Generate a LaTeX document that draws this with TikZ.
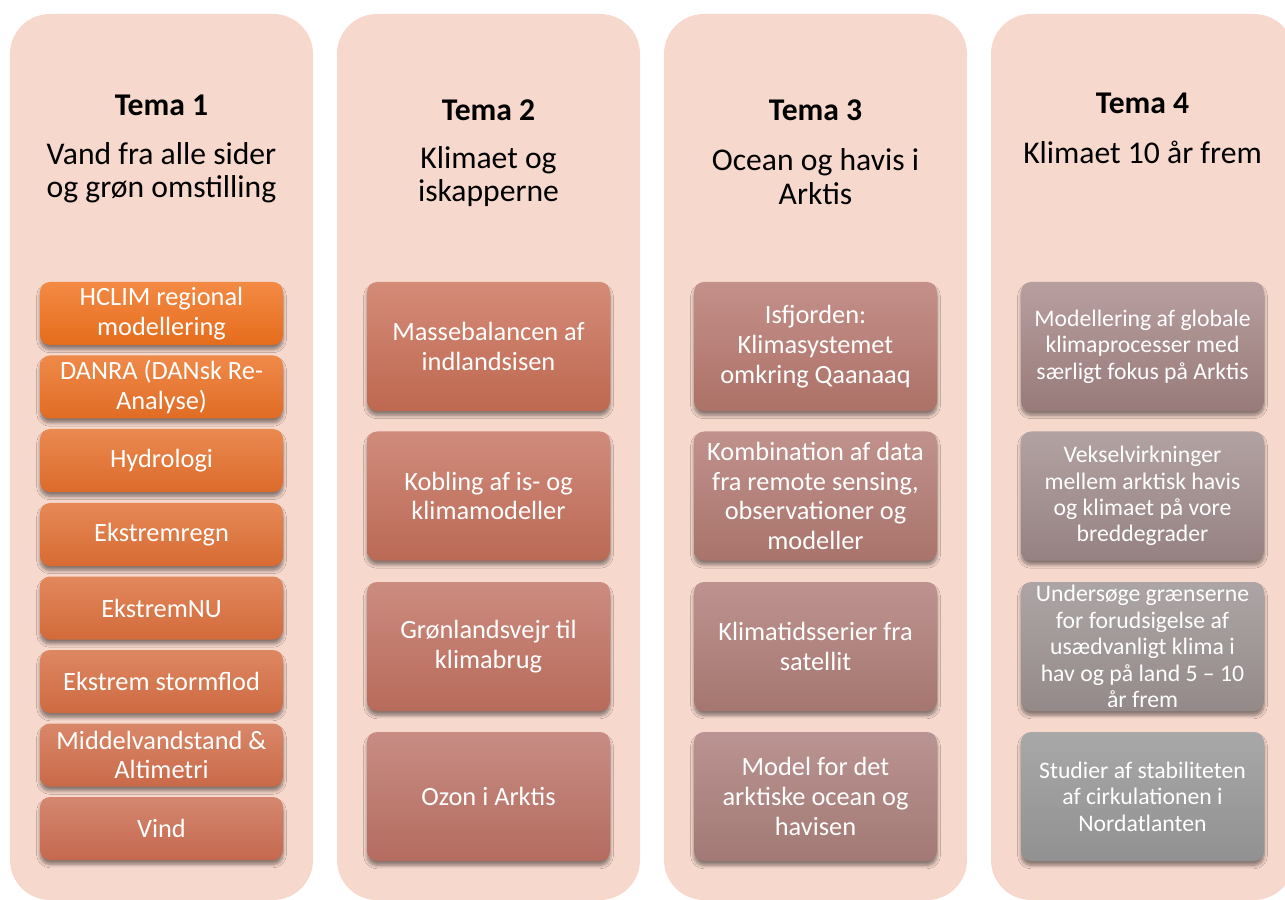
\documentclass[tikz,border=0pt]{standalone}
\usepackage{fontspec}
\setmainfont{Carlito}
\usepackage{tikz}
\usetikzlibrary{shapes,positioning,shadows,shadows.blur}
\usepackage{xcolor}
\definecolor{bagfarve}{RGB}{247,216,204}
\definecolor{orgtop}{RGB}{243,138,68}
\definecolor{orgbot}{RGB}{229,108,28}
\definecolor{rustop}{RGB}{213,135,111}
\definecolor{rusbot}{RGB}{196,105,80}
\definecolor{isatop}{RGB}{212,139,120}
\definecolor{isabot}{RGB}{190,104,80}
\definecolor{isbtop}{RGB}{200,140,132}
\definecolor{isbbot}{RGB}{180,108,95}
\definecolor{ocatop}{RGB}{196,144,138}
\definecolor{ocabot}{RGB}{172,113,103}
\definecolor{ocbtop}{RGB}{186,148,146}
\definecolor{ocbbot}{RGB}{162,121,116}
\definecolor{klatop}{RGB}{184,159,159}
\definecolor{klabot}{RGB}{152,122,122}
\definecolor{klbtop}{RGB}{168,168,168}
\definecolor{klbbot}{RGB}{145,145,145}

\begin{document}
\begin{tikzpicture}[
    kolonne/.style={rectangle, fill=bagfarve, rounded corners=0.8cm,
        minimum width=6.06cm, minimum height=17.72cm, inner sep=0pt},
    tema/.style={font=\fontsize{18}{19}\selectfont\bfseries},
    undertitel/.style={font=\fontsize{18}{19}\selectfont, align=center},
    emne/.style={rectangle, rounded corners=0.2cm, text=white, align=center,
        minimum width=4.86cm, inner xsep=2pt, inner ysep=1pt,
        font=\fontsize{15}{17}\selectfont,
        blur shadow={shadow xshift=0pt, shadow yshift=-2.5pt,
            shadow blur steps=6, shadow opacity=45}},
    kort/.style={emne, minimum height=1.26cm},
    lang/.style={emne, minimum height=2.58cm},
    lille/.style={lang, font=\fontsize{13.5}{15}\selectfont}
]
    \useasboundingbox (0,0) rectangle (25.7,17.98);

    % baggrund
    \node[kolonne] (k1) at (3.23,8.84) {};
    \node[kolonne] (k2) at (9.77,8.84) {};
    \node[kolonne] (k3) at (16.31,8.84) {};
    \node[kolonne] (k4) at (22.85,8.84) {};

    % Tema 1
    \node[tema] (t1) at (3.23,15.88) {Tema 1};
    \node[undertitel] (u1) at (3.23,14.52) {Vand fra alle sider\\og grøn omstilling};
    \node[kort, top color=orgtop, bottom color=orgbot] (a1) at (3.23,11.71) {HCLIM regional\\modellering};
    \node[kort, top color=orgtop!86!rustop, bottom color=orgbot!86!rusbot] (a2) at (3.23,10.24) {DANRA (DANsk Re-\\Analyse)};
    \node[kort, top color=orgtop!71!rustop, bottom color=orgbot!71!rusbot] (a3) at (3.23,8.77) {Hydrologi};
    \node[kort, top color=orgtop!57!rustop, bottom color=orgbot!57!rusbot] (a4) at (3.23,7.29) {Ekstremregn};
    \node[kort, top color=orgtop!43!rustop, bottom color=orgbot!43!rusbot] (a5) at (3.23,5.82) {EkstremNU};
    \node[kort, top color=orgtop!29!rustop, bottom color=orgbot!29!rusbot] (a6) at (3.23,4.35) {Ekstrem stormflod};
    \node[kort, top color=orgtop!14!rustop, bottom color=orgbot!14!rusbot] (a7) at (3.23,2.88) {Middelvandstand \&\\Altimetri};
    \node[kort, top color=rustop, bottom color=rusbot] (a8) at (3.23,1.41) {Vind};

    % Tema 2
    \node[tema] (t2) at (9.77,15.78) {Tema 2};
    \node[undertitel] (u2) at (9.77,14.45) {Klimaet og\\iskapperne};
    \node[lang, top color=isatop, bottom color=isabot] (b1) at (9.77,11.05) {Massebalancen af\\indlandsisen};
    \node[lang, top color=isatop!67!isbtop, bottom color=isabot!67!isbbot] (b2) at (9.77,8.06) {Kobling af is- og\\klimamodeller};
    \node[lang, top color=isatop!33!isbtop, bottom color=isabot!33!isbbot] (b3) at (9.77,5.05) {Grønlandsvejr til\\klimabrug};
    \node[lang, top color=isbtop, bottom color=isbbot] (b4) at (9.77,2.05) {Ozon i Arktis};

    % Tema 3
    \node[tema] (t3) at (16.31,15.78) {Tema 3};
    \node[undertitel] (u3) at (16.31,14.45) {Ocean og havis i\\Arktis};
    \node[lang, top color=ocatop, bottom color=ocabot] (c1) at (16.31,11.05) {Isfjorden:\\Klimasystemet\\omkring Qaanaaq};
    \node[lang, top color=ocatop!67!ocbtop, bottom color=ocabot!67!ocbbot] (c2) at (16.31,8.06) {Kombination af data\\fra remote sensing,\\observationer og\\modeller};
    \node[lang, top color=ocatop!33!ocbtop, bottom color=ocabot!33!ocbbot] (c3) at (16.31,5.05) {Klimatidsserier fra\\satellit};
    \node[lang, top color=ocbtop, bottom color=ocbbot] (c4) at (16.31,2.05) {Model for det\\arktiske ocean og\\havisen};

    % Tema 4
    \node[tema] (t4) at (22.85,15.92) {Tema 4};
    \node[undertitel] (u4) at (22.85,14.94) {Klimaet 10 år frem};
    \node[lille, top color=klatop, bottom color=klabot] (d1) at (22.85,11.05) {Modellering af globale\\klimaprocesser med\\særligt fokus på Arktis};
    \node[lille, top color=klatop!67!klbtop, bottom color=klabot!67!klbbot] (d2) at (22.85,8.06) {Vekselvirkninger\\mellem arktisk havis\\og klimaet på vore\\breddegrader};
    \node[lille, top color=klatop!33!klbtop, bottom color=klabot!33!klbbot] (d3) at (22.85,5.05) {Undersøge grænserne\\for forudsigelse af\\usædvanligt klima i\\hav og på land 5 – 10\\år frem};
    \node[lille, top color=klbtop, bottom color=klbbot] (d4) at (22.85,2.05) {Studier af stabiliteten\\af cirkulationen i\\Nordatlanten};
\end{tikzpicture}
\end{document}
